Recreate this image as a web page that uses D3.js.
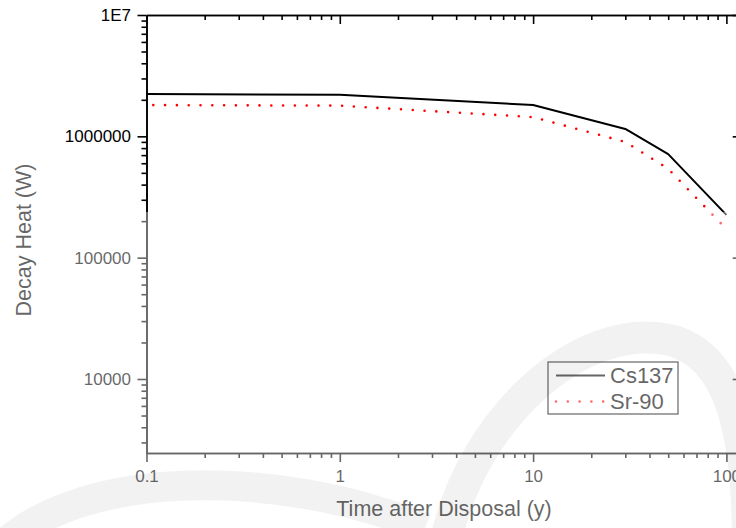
<!DOCTYPE html>
<html>
<head>
<meta charset="utf-8">
<script src="https://cdn.jsdelivr.net/npm/d3@7"></script>
<style>
  body { margin: 0; background: #fff; }
  svg { display: block; font-family: "Liberation Sans", Arial, sans-serif; }
  .axis path, .axis line { stroke: #000; stroke-width: 1.6; }
  .axis text { font-size: 17px; fill: #000; font-family: "Liberation Sans", Arial, sans-serif; }
</style>
</head>
<body>
<div id="chart"></div>
<script>
const width = 736
const height = 528

// data
const years = [0.1, 1, 10, 30, 50, 100]
const cs137 = [2230000, 2200000, 1810000, 1150000, 714000, 225000]
const sr90 = [1810000, 1790000, 1440000, 900000, 540000, 172000]
const seriesNames = ["Cs137", "Sr-90"]

const xMajor = [0.1, 1, 10, 100]
const yMajor = [10000, 100000, 1000000, 10000000]
const yLabels = ["10000", "100000", "1000000", "1E7"]

const svg = d3.select("#chart")
    .append("svg")
    .attr("width", width)
    .attr("height", height)

const x = d3.scaleLog().domain([0.1, 120]).range([146.5, 741.7])
const y = d3.scaleLog().domain([2455, 1e7]).range([453, 15])

function minors(lo, hi, domain) {
    let out = []
    for (let d = lo; d < hi; d *= 10) {
        for (let k = 2; k <= 9; k++) {
            let v = d * k
            if (v >= domain[0] && v <= domain[1]) out.push(v)
        }
    }
    return out
}
const xMinor = minors(0.1, 1000, x.domain())
const yMinor = minors(1000, 1e7, y.domain())

function drawAxis(gen, tx, ty) {
    return svg.append("g")
        .attr("class", "axis")
        .attr("transform", `translate(${tx},${ty})`)
        .call(gen)
}

// bottom
drawAxis(d3.axisBottom(x).tickValues(xMinor).tickSize(5).tickSizeOuter(0).tickFormat(""), 0, 453)
drawAxis(d3.axisBottom(x).tickValues(xMajor).tickSize(9).tickSizeOuter(0).tickPadding(8)
    .tickFormat(d => d3.format("~g")(d)), 0, 453)
// top (ticks inward)
drawAxis(d3.axisBottom(x).tickValues(xMinor).tickSize(5).tickSizeOuter(0).tickFormat(""), 0, 15)
drawAxis(d3.axisBottom(x).tickValues(xMajor).tickSize(9).tickSizeOuter(0).tickFormat(""), 0, 15)
// left
drawAxis(d3.axisLeft(y).tickValues(yMinor).tickSize(5).tickSizeOuter(0).tickFormat(""), 146.5, 0)
drawAxis(d3.axisLeft(y).tickValues(yMajor).tickSize(9).tickSizeOuter(0).tickPadding(6.5)
    .tickFormat((d, i) => yLabels[i]), 146.5, 0)
// right (ticks inward)
drawAxis(d3.axisLeft(y).tickValues(yMinor).tickSize(5).tickSizeOuter(0).tickFormat(""), 741.7, 0)
drawAxis(d3.axisLeft(y).tickValues(yMajor).tickSize(9).tickSizeOuter(0).tickFormat(""), 741.7, 0)

const line = d3.line()
    .x(d => x(d[0]))
    .y(d => y(d[1]))

svg.append("path")
    .datum(years.map((t, i) => [t, cs137[i]]))
    .attr("fill", "none")
    .attr("stroke", "#000")
    .attr("stroke-width", 2)
    .attr("stroke-linejoin", "round")
    .attr("d", line)

svg.append("path")
    .datum(years.map((t, i) => [t, sr90[i]]))
    .attr("fill", "none")
    .attr("stroke", "#ff0000")
    .attr("stroke-width", 2.6)
    .attr("stroke-linecap", "round")
    .attr("stroke-dasharray", "0 11.8")
    .attr("stroke-dashoffset", 5)
    .attr("d", line)

// legend
const legend = svg.append("g").attr("transform", "translate(548,362)")
legend.append("rect")
    .attr("width", 130)
    .attr("height", 52)
    .attr("fill", "#fff")
    .attr("stroke", "#000")
    .attr("stroke-width", 1.2)
legend.append("line")
    .attr("x1", 8).attr("x2", 57).attr("y1", 13.5).attr("y2", 13.5)
    .attr("stroke", "#000").attr("stroke-width", 2)
legend.append("line")
    .attr("x1", 8).attr("x2", 57).attr("y1", 39.5).attr("y2", 39.5)
    .attr("stroke", "#ff0000").attr("stroke-width", 2.6)
    .attr("stroke-linecap", "round")
    .attr("stroke-dasharray", "0 11.8")
seriesNames.forEach((n, i) => {
    legend.append("text")
        .text(n)
        .attr("x", 62)
        .attr("y", 21 + i * 26)
        .style("font-size", "22px")
        .attr("fill", "#000")
})

// axis titles
svg.append("text")
    .text("Time after Disposal (y)")
    .attr("x", 444)
    .attr("y", 516)
    .style("text-anchor", "middle")
    .style("font-size", "21.5px")
    .attr("fill", "#000")
svg.append("text")
    .text("Decay Heat (W)")
    .attr("transform", "rotate(-90)")
    .attr("x", -240)
    .attr("y", 31)
    .style("text-anchor", "middle")
    .style("font-size", "21.5px")
    .attr("fill", "#000")

// faded watermark over the lower part
svg.append("path")
    .attr("d", "M0,150 L60,150 L60,212 L736,212 L736,528 L0,528 Z")
    .attr("fill", "#fff")
    .attr("fill-opacity", 0.4)
svg.append("path")
    .attr("d", "M0,548 C80,468 280,468 425,528")
    .attr("fill", "none")
    .attr("stroke", "#000")
    .attr("stroke-opacity", 0.05)
    .attr("stroke-width", 30)
svg.append("path")
    .attr("d", "M445,545 C470,420 580,320 670,340 C730,355 748,430 748,545")
    .attr("fill", "none")
    .attr("stroke", "#000")
    .attr("stroke-opacity", 0.05)
    .attr("stroke-width", 32)
</script>
</body>
</html>
